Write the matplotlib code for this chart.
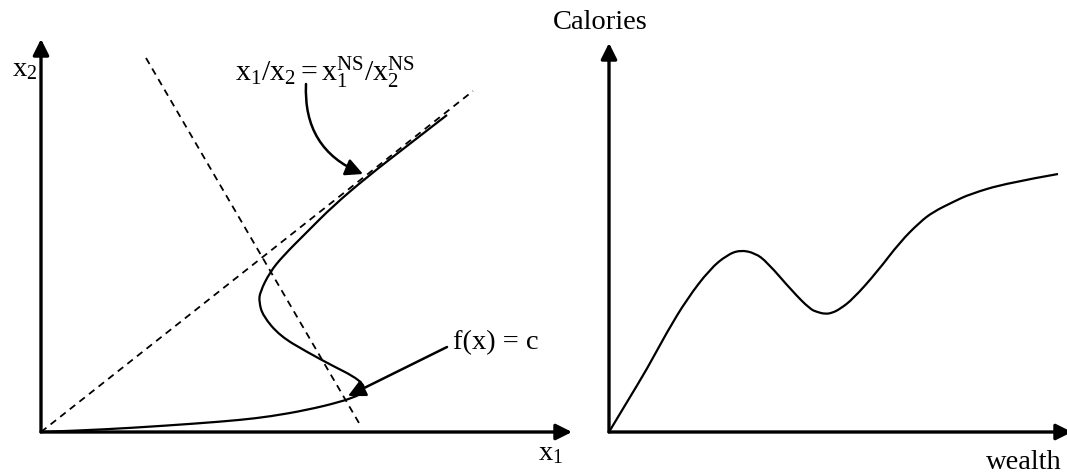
import matplotlib
matplotlib.use("Agg")
import matplotlib.pyplot as plt
from matplotlib.path import Path
from matplotlib.patches import PathPatch
import numpy as np

plt.rcParams['font.family'] = ['Liberation Serif', 'DejaVu Serif']
plt.rcParams['mathtext.fontset'] = 'custom'
plt.rcParams['mathtext.rm'] = 'Liberation Serif'
plt.rcParams['mathtext.it'] = 'Liberation Serif:italic'
plt.rcParams['lines.scale_dashes'] = False

# ---- Left panel data (x1, x2) ----
iso_x1 = [0.0, 3.9, 8.9, 15.6, 19.9, 22.9, 26.6, 29.9, 31.6, 32.1, 32.3, 32.2, 31.2,
          29.2, 26.6, 23.9, 22.2, 21.8, 21.9, 22.9, 24.2, 26.6, 29.2, 32.6, 36.6, 40.6]
iso_x2 = [0.0, 0.15, 0.4, 0.85, 1.2, 1.55, 2.2, 3.0, 3.6, 3.9, 4.3, 4.8, 5.6,
          6.6, 8.0, 9.6, 11.6, 13.0, 14.0, 16.0, 17.6, 20.0, 22.6, 25.5, 28.6, 31.7]
ray_x1 = [0.0, 43.2]
ray_x2 = [0.0, 34.1]
budget_x1 = [10.5, 31.8]
budget_x2 = [37.4, 0.9]

# ---- Right panel data (wealth, calories) ----
wealth = [0.0, 1.8, 3.8, 5.8, 7.8, 10.1, 11.8, 13.1, 14.6, 15.8, 18.4, 20.1, 20.8,
          21.6, 22.3, 23.1, 24.4, 26.8, 29.1, 31.1, 32.4, 34.4, 36.1, 39.8, 44.9]
calories = [0.0, 3.0, 6.3, 10.0, 13.3, 16.3, 17.7, 18.2, 17.9, 17.0, 14.0, 12.3, 12.0,
            11.8, 11.9, 12.3, 13.3, 16.0, 19.0, 21.0, 22.0, 23.0, 23.8, 24.9, 25.8]


def smooth_path(xs, ys):
    pts = np.column_stack([xs, ys]).astype(float)
    verts = [pts[0]]
    codes = [Path.MOVETO]
    n = len(pts)
    for i in range(1, n - 1):
        end = (pts[i] + pts[i + 1]) / 2 if i < n - 2 else pts[i + 1]
        verts += [pts[i], end]
        codes += [Path.CURVE3, Path.CURVE3]
    return Path(verts, codes)


W, H = 1067, 477
fig = plt.figure(figsize=(W / 100, H / 100), dpi=100)

axL = fig.add_axes([41 / W, 44 / H, 540 / W, 400 / H])
axR = fig.add_axes([609 / W, 44 / H, 458 / W, 400 / H])
for ax in (axL, axR):
    ax.set_axis_off()
    ax.set_ylim(0, 40)
axL.set_xlim(0, 54)
axR.set_xlim(0, 45.8)

FS = 20.5
axis_arrow = dict(arrowstyle='-|>', mutation_scale=24, lw=2.4, color='black',
                  shrinkA=0, shrinkB=0)

# axes arrows
axL.annotate('', xy=(0, 39.3), xytext=(0, 0), arrowprops=axis_arrow, annotation_clip=False)
axL.annotate('', xy=(53.1, 0), xytext=(0, 0), arrowprops=axis_arrow, annotation_clip=False)
axR.annotate('', xy=(0, 38.9), xytext=(0, 0), arrowprops=axis_arrow, annotation_clip=False)
axR.annotate('', xy=(46.3, 0), xytext=(0, 0), arrowprops=axis_arrow, annotation_clip=False)

# left: dashed lines
dash = (0, (5, 3.8))
axL.plot(ray_x1, ray_x2, color='black', lw=1.3, ls=dash, clip_on=False)
axL.plot(budget_x1, budget_x2, color='black', lw=1.3, ls=dash, clip_on=False)

# smooth curves
axL.add_patch(PathPatch(smooth_path(iso_x1, iso_x2), fill=False, lw=1.6,
                        edgecolor='black', clip_on=False, joinstyle='round'))
axR.add_patch(PathPatch(smooth_path(wealth, calories), fill=False, lw=1.6,
                        edgecolor='black', clip_on=False, joinstyle='round'))

# annotation arrows
axL.annotate('', xy=(32.2, 25.8), xytext=(26.5, 34.8),
             arrowprops=dict(arrowstyle='-|>', mutation_scale=26, lw=1.8, color='black',
                             shrinkA=0, shrinkB=0, connectionstyle='arc3,rad=0.35'),
             annotation_clip=False)
axL.annotate('', xy=(30.7, 3.6), xytext=(40.6, 8.5),
             arrowprops=dict(arrowstyle='-|>', mutation_scale=26, lw=1.8, color='black',
                             shrinkA=0, shrinkB=0),
             annotation_clip=False)

# texts
axL.text(19.4, 36.1, r'$\mathrm{x}_1/\mathrm{x}_2 = \mathrm{x}_1^{\mathrm{NS}}/\mathrm{x}_2^{\mathrm{NS}}$',
         fontsize=21.5, ha='left', va='center')
axL.text(41.2, 9.0, 'f(x) = c', fontsize=FS, ha='left', va='center')
axL.text(-2.9, 36.3, r'$\mathrm{x}_2$', fontsize=FS, ha='left', va='center')
axL.text(49.7, -2.1, r'$\mathrm{x}_1$', fontsize=FS, ha='left', va='center')
axR.text(-5.6, 41.0, 'Calories', fontsize=FS, ha='left', va='center')
axR.text(45.3, -3.0, 'wealth', fontsize=FS, ha='right', va='center')

fig.savefig('out.png', dpi=100)
